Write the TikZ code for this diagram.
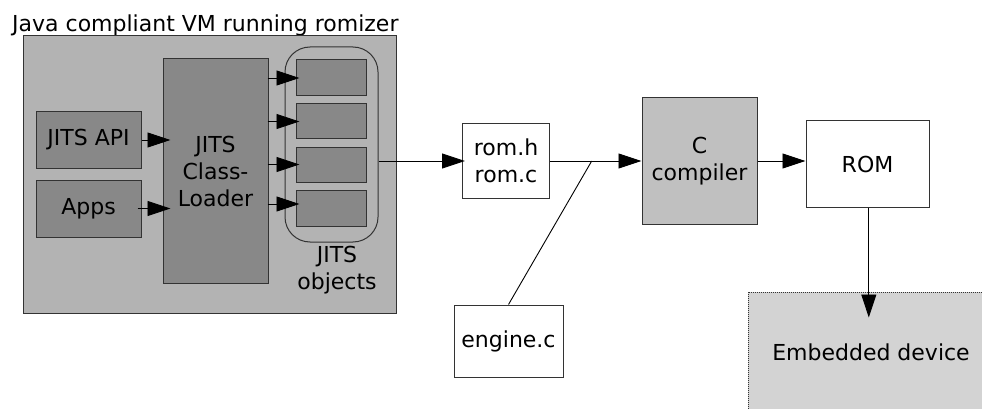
\documentclass[tikz,border=0pt]{standalone}
\usepackage{fontspec}
\setmainfont{DejaVu Sans}
\usetikzlibrary{arrows.meta,calc}
\definecolor{outergray}{HTML}{B3B3B3}
\definecolor{darkgray}{HTML}{888888}
\definecolor{ccgray}{HTML}{C0C0C0}
\definecolor{embgray}{HTML}{D3D3D3}
\definecolor{edge}{HTML}{333333}
\begin{document}
\begin{tikzpicture}[x=1pt,y=-1pt,
  every node/.style={font=\fontsize{22}{27}\selectfont, inner sep=0pt, align=center},
  box/.style={draw=edge, line width=1pt, rectangle},
  darkbox/.style={box, fill=darkgray},
  arr/.style={draw=black, line width=0.9pt, -{Triangle[length=23pt,width=15pt]}},
  plain/.style={draw=black, line width=0.9pt}
]
\useasboundingbox (0,0) rectangle (982,409);
\clip (0,0) rectangle (982,409);
% title and outer box
\node[anchor=base west] (title) at (12,32) {Java compliant VM running romizer};
\node[box, fill=outergray, minimum width=373pt, minimum height=277pt] (outer) at (209.5,174.5) {};
% left boxes
\node[darkbox, minimum width=105pt, minimum height=56pt] (api) at (88.5,140) {JITS API};
\node[darkbox, minimum width=105pt, minimum height=57pt] (apps) at (88.5,208.5) {Apps};
\node[darkbox, minimum width=105pt, minimum height=224pt] (loader) at (215.5,171) {JITS\\Class-\\Loader};
% JITS objects
\node[box, fill=outergray, rounded corners=25pt, minimum width=93pt, minimum height=195pt] (objs) at (331.5,144.5) {};
\node[darkbox, minimum width=70pt, minimum height=36pt] (o1) at (331,78) {};
\node[darkbox, minimum width=70pt, minimum height=35pt] (o2) at (331,121.5) {};
\node[darkbox, minimum width=70pt, minimum height=35pt] (o3) at (331,164.5) {};
\node[darkbox, minimum width=70pt, minimum height=36pt] (o4) at (331,208) {};
\node (objlabel) at (337,270) {JITS\\objects};
% right side
\node[box, fill=white, minimum width=87pt, minimum height=75pt] (rom) at (506,161) {rom.h\\rom.c};
\node[box, fill=white, minimum width=109pt, minimum height=72pt] (engine) at (508.5,341) {engine.c};
\node[box, fill=ccgray, minimum width=115pt, minimum height=126pt] (cc) at (699.5,161) {C\\compiler};
\node[box, fill=white, minimum width=123pt, minimum height=86pt] (ROM) at (867.5,164) {ROM};
\node[draw=edge, line width=1pt, densely dotted, fill=embgray, minimum width=246pt, minimum height=120pt] (emb) at (871,352) {Embedded device};
% connectors
\draw[arr] (api.east) -- ([xshift=8pt]loader.west |- api.east);
\draw[arr] ([xshift=-4pt]apps.east) -- ([xshift=8pt]loader.west |- apps.east);
\draw[arr] ([xshift=-1pt]loader.east |- o1) -- ([xshift=4pt]o1.west);
\draw[arr] ([xshift=-1pt]loader.east |- o2) -- ([xshift=4pt]o2.west);
\draw[arr] ([xshift=-1pt]loader.east |- o3) -- ([xshift=4pt]o3.west);
\draw[arr] ([xshift=-1pt,yshift=4pt]loader.east |- o4) -- ([xshift=4pt,yshift=4pt]o4.west);
\draw[arr] (objs.east |- rom.west) -- ([xshift=3pt]rom.west);
\coordinate (j) at ($(rom.east)!0.456!(cc.west)$);
\draw[arr] (rom.east) -- (cc.west);
\draw[plain] (engine.north) -- (j);
\draw[arr] (cc.east) -- (ROM.west |- cc.east);
\draw[arr] ([xshift=1.3pt]ROM.south) -- ([xshift=1.3pt,yshift=-26pt]ROM.south |- emb.north);
\end{tikzpicture}
\end{document}
